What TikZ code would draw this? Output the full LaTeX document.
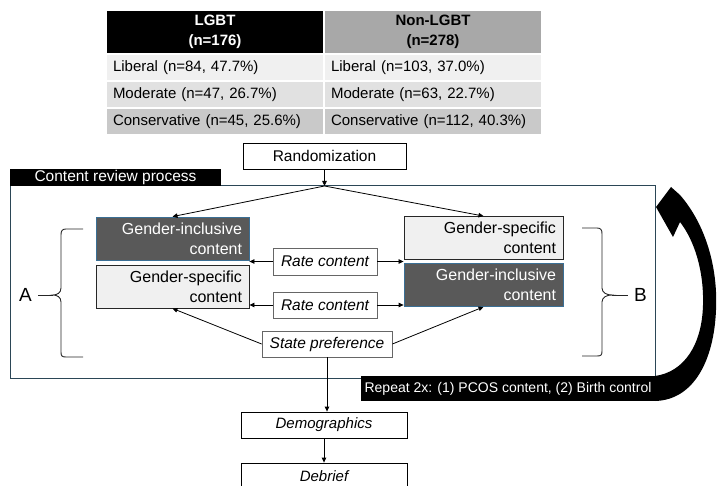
\documentclass[tikz,border=0pt]{standalone}
\usepackage{fontspec}
\setmainfont{Liberation Sans}
\usepackage{xcolor}
\usepackage{tikz}
\usetikzlibrary{positioning,arrows.meta,calc}

\definecolor{inclfill}{HTML}{595959}
\definecolor{incldraw}{HTML}{3A6F95}
\definecolor{specfill}{HTML}{F0F0F0}
\definecolor{framecol}{HTML}{2B4656}
\definecolor{headgray}{HTML}{A8A8A8}
\definecolor{rowlib}{HTML}{F0F0F0}
\definecolor{rowmod}{HTML}{E1E1E1}
\definecolor{rowcon}{HTML}{C9C9C9}

\begin{document}
\begin{tikzpicture}[x=1pt, y=-1pt,
  cell/.style={draw=white, line width=1.5pt, minimum width=218pt, minimum height=27pt, inner xsep=7pt, inner ysep=0pt, text width=204pt, align=left, font=\fontsize{15}{19}\selectfont},
  hcell/.style={cell, minimum height=44pt, align=center, font=\fontsize{15}{20}\selectfont\bfseries},
  flow/.style={draw, line width=0.8pt, minimum height=26pt, inner sep=0pt, font=\fontsize{15.5}{18}\selectfont},
  rate/.style={flow, draw=black!60, font=\fontsize{15.5}{18}\selectfont\itshape},
  content/.style={minimum height=43pt, inner xsep=7pt, inner ysep=0pt, align=right, font=\fontsize{16}{20}\selectfont},
  incl/.style={content, fill=inclfill, draw=incldraw, line width=0.8pt, text=white},
  spec/.style={content, fill=specfill, draw=black!85, line width=0.9pt},
  brk/.style={line width=0.9pt, black!85},
  arr/.style={-{Triangle[length=5pt,width=4.5pt]}, line width=0.8pt}
]
\useasboundingbox (0,0) rectangle (717,486);
\clip (0,0) rectangle (717,486);

% sample table
\node[hcell, fill=black, text=white] (hlgbt) at (215,32) {LGBT\\(n=176)};
\node[hcell, fill=headgray] (hnon) at (433,32) {Non-LGBT\\(n=278)};
\node[cell, fill=rowlib] (lib1) at (215,67.5) {Liberal (n=84, 47.7\%)};
\node[cell, fill=rowlib] (lib2) at (433,67.5) {Liberal (n=103, 37.0\%)};
\node[cell, fill=rowmod] (mod1) at (215,94.5) {Moderate (n=47, 26.7\%)};
\node[cell, fill=rowmod] (mod2) at (433,94.5) {Moderate (n=63, 22.7\%)};
\node[cell, fill=rowcon] (con1) at (215,121.5) {Conservative (n=45, 25.6\%)};
\node[cell, fill=rowcon] (con2) at (433,121.5) {Conservative (n=112, 40.3\%)};

% flow
\node[flow, minimum width=163pt] (rand) at (324.5,156) {Randomization};
\node[draw=framecol, line width=1pt, minimum width=645pt, minimum height=192pt] (review) at (332.5,282) {};
\node[fill=black, text=white, minimum width=211pt, minimum height=17pt, inner sep=0pt, font=\fontsize{15.5}{17}\selectfont] (tab) at (115.5,177.5) {Content review process};
\coordinate (split) at (324.5,186);

\node[incl, text width=139pt] (lgi) at (172.5,238.5) {Gender-inclusive\\content};
\node[spec, text width=139pt] (lgs) at (172.5,286.5) {Gender-specific\\content};
\node[spec, text width=145pt] (rgs) at (483.5,238) {Gender-specific\\content};
\node[incl, text width=145pt] (rgi) at (483.5,285) {Gender-inclusive\\content};

\node[rate, minimum width=104pt, minimum height=27pt] (rate1) at (325,261.5) {Rate content};
\node[rate, minimum width=104pt] (rate2) at (325,305) {Rate content};
\node[rate, minimum width=130pt] (spref) at (327,344) {State preference};

\draw[arr] (rand) -- (split);
\draw[arr] (split) -- (lgi.north);
\draw[arr] (split) -- (rgs.north);
\draw[arr] (rate1) -- (rate1 -| lgi.east);
\draw[arr] (rate1) -- (rate1 -| rgs.west);
\draw[arr] (rate2) -- (rate2 -| lgs.east);
\draw[arr] (rate2) -- (rate2 -| rgi.west);
\draw[arr] (spref.west) -- (lgs.south);
\draw[arr] (spref.east) -- (rgi.south);

% brackets
\node[inner xsep=6pt, font=\fontsize{19}{19}\selectfont] (armA) at (25.5,295) {A};
\node[inner xsep=6pt, font=\fontsize{19}{19}\selectfont] (armB) at (640.5,295) {B};
\coordinate (tipA) at (53,295);
\coordinate (tipB) at (612,295);
\draw[brk] (83,229) -- (66,229) .. controls (62,229) and (61,231) .. (61,235) -- (61,288)
  .. controls (61,293) and (57,295) .. (tipA) .. controls (57,295) and (61,297) .. (61,302)
  -- (61,352) .. controls (61,356) and (62,357) .. (66,357) -- (83,357);
\draw[brk] (582,228) -- (597,228) .. controls (601,228) and (602,230) .. (602,234) -- (602,288)
  .. controls (602,293) and (607,295) .. (tipB) .. controls (607,295) and (602,297) .. (602,302)
  -- (602,351) .. controls (602,355) and (601,356) .. (597,356) -- (582,356);
\draw[brk] (armA.east) -- (tipA);
\draw[brk] (armB.west) -- (tipB);

% repeat loop
\node[fill=black, text=white, minimum width=294pt, minimum height=25pt, inner sep=0pt, font=\fontsize{14}{16}\selectfont] (repeat) at (508,388.5) {Repeat 2x: (1) PCOS content, (2) Birth control};
\fill (656,207) -- (671,187) -- (680,195)
  .. controls (706,225) and (718,268) .. (716,310)
  .. controls (714,360) and (694,400) .. (655,401)
  -- (655,376)
  .. controls (684,372) and (702,345) .. (703,305)
  .. controls (704,270) and (694,240) .. (680,222)
  -- (673,237) -- cycle;

\node[flow, minimum width=166pt, font=\fontsize{15}{18}\selectfont\itshape] (demo) at (324,425) {Demographics};
\node[flow, minimum width=166pt, minimum height=27pt, font=\fontsize{15}{18}\selectfont\itshape] (debrief) at (324,476.5) {Debrief};
\draw[arr] (spref.south) -- (spref.south |- demo.north);
\draw[arr] (demo) -- (debrief);
\end{tikzpicture}
\end{document}
